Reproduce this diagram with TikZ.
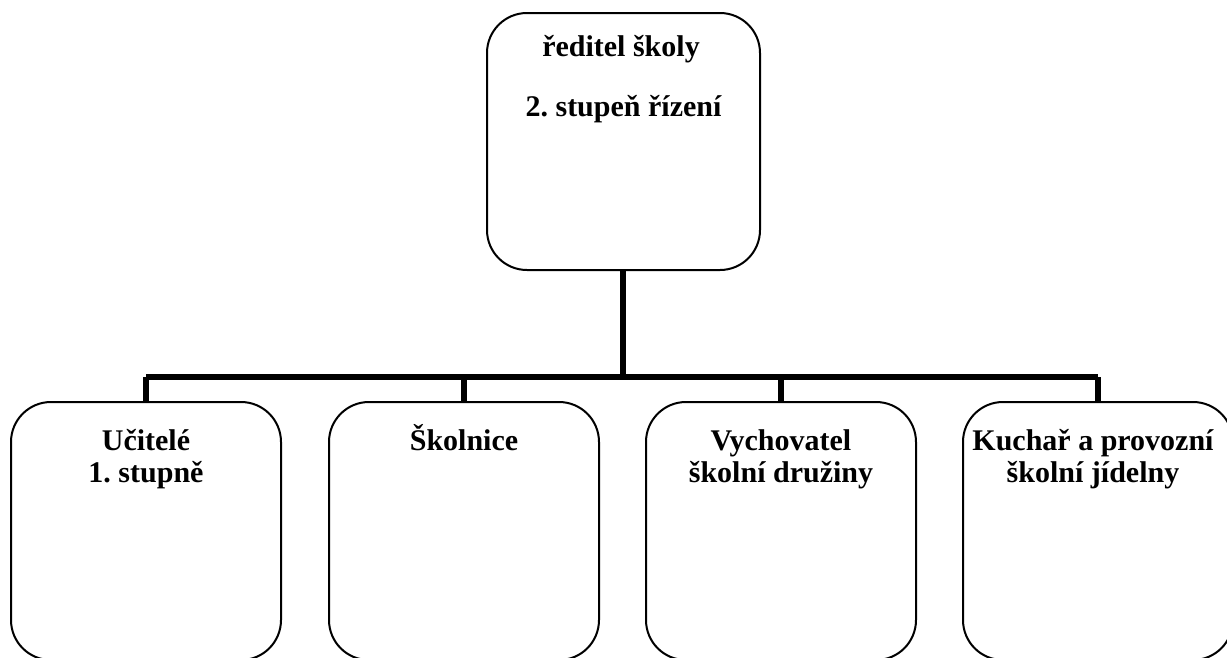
\documentclass[tikz,border=0pt]{standalone}
\usepackage{fontspec}
\setmainfont{Liberation Serif}
\frenchspacing
\begin{document}
\begin{tikzpicture}[x=1pt,y=1pt,
  box/.style={draw=black, line width=2pt, rounded corners=40pt, inner sep=0pt},
  lbl/.style={font=\fontsize{30}{33}\selectfont\bfseries, anchor=base, inner sep=0pt, align=center},
  conn/.style={line width=6pt}]
\clip (0,0) rectangle (1227,-657);
% top box
\node[box, minimum width=273pt, minimum height=257pt] (top) at (623.5,-141.5) {};
\node[lbl] (t1) at (621,-56) {ředitel školy};
\node[lbl] (t2) at (623.5,-116) {2. stupeň řízení};
% bottom boxes
\node[box, minimum width=270pt, minimum height=258pt] (b1) at (146,-531) {};
\node[box, minimum width=270pt, minimum height=258pt] (b2) at (464,-531) {};
\node[box, minimum width=270pt, minimum height=258pt] (b3) at (781,-531) {};
\node[box, minimum width=270pt, minimum height=258pt] (b4) at (1098,-531) {};
\node[lbl] (l1) at (146,-450) {Učitelé};
\node[lbl] (l1b) at (146,-482) {1. stupně};
\node[lbl] (l2) at (464,-450) {Školnice};
\node[lbl] (l3) at (781,-450) {Vychovatel};
\node[lbl] (l3b) at (781,-482) {školní družiny};
\node[lbl] (l4) at (1093,-450) {Kuchař a provozní};
\node[lbl] (l4b) at (1093,-482) {školní jídelny};
% connectors
\coordinate (bar) at (623,-377);
\draw[conn] (top.south -| bar) -- (bar);
\draw[conn] (b1.north |- bar) -- (b4.north |- bar);
\draw[conn] (b1.north |- bar) -- (b1.north);
\draw[conn] (b2.north |- bar) -- (b2.north);
\draw[conn] (b3.north |- bar) -- (b3.north);
\draw[conn] (b4.north |- bar) -- (b4.north);
\end{tikzpicture}
\end{document}
